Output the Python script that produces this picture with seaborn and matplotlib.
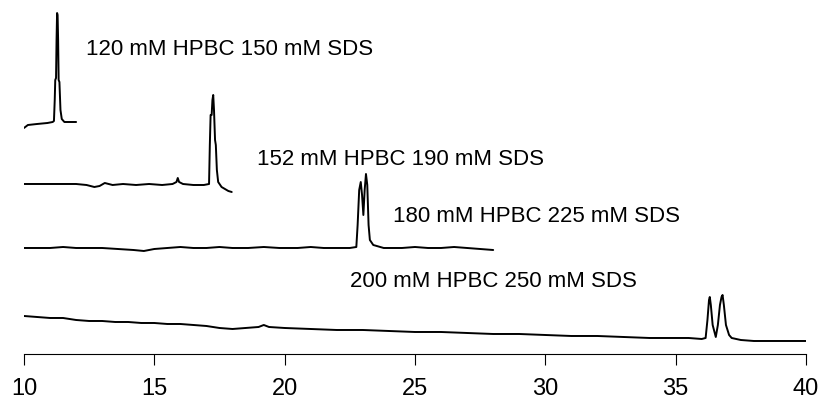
import matplotlib
matplotlib.use("Agg")
import matplotlib.pyplot as plt
import pandas as pd
import seaborn as sns

# Migration time (min) and detector signal (arbitrary units, stacked traces)
t_120 = [10.0, 10.15, 10.5, 10.9, 11.1, 11.15, 11.18, 11.2, 11.23, 11.25, 11.27,
         11.29, 11.31, 11.33, 11.36, 11.4, 11.45, 11.55, 11.7, 12.0]
s_120 = [226, 229, 230, 231, 232, 233, 254, 274, 276, 314, 341,
         339, 314, 274, 272, 244, 235, 232, 232, 232]

t_152 = [10.0, 11.0, 12.0, 12.4, 12.7, 12.9, 13.1, 13.4, 13.8, 14.3, 14.8, 15.3,
         15.7, 15.85, 15.9, 15.95, 16.1, 16.5, 16.9, 17.1, 17.13, 17.16, 17.2,
         17.23, 17.26, 17.29, 17.33, 17.36, 17.4, 17.45, 17.58, 17.84, 17.97]
s_152 = [170, 170, 170, 169, 167, 168, 171, 169, 170, 169, 170, 169,
         170, 172, 176, 172, 170, 169, 169, 170, 209, 239, 239,
         254, 259, 244, 214, 209, 184, 172, 167, 163, 162]

t_180 = [10.0, 11.0, 11.5, 12.0, 13.0, 13.6, 14.2, 14.6, 15.0, 15.5, 16.0, 16.5,
         17.0, 17.5, 18.0, 18.6, 19.2, 19.8, 20.5, 21.0, 21.5, 22.0, 22.5, 22.75,
         22.8, 22.86, 22.92, 22.97, 23.02, 23.07, 23.12, 23.17, 23.22, 23.27,
         23.4, 23.8, 24.5, 25.0, 25.5, 26.0, 26.5, 27.0, 27.5, 28.0]
s_180 = [106, 106, 107, 106, 106, 105, 104, 103, 105, 106, 107, 106,
         106, 107, 106, 106, 107, 106, 106, 107, 106, 106, 106, 107,
         129, 164, 172, 159, 139, 164, 180, 169, 129, 114,
         109, 106, 106, 107, 106, 106, 107, 106, 105, 104]

t_200 = [10.0, 10.5, 11.0, 11.5, 12.0, 12.5, 13.0, 13.5, 14.0, 14.5, 15.0, 15.5,
         16.0, 16.5, 17.0, 17.5, 18.0, 18.5, 19.0, 19.2, 19.4, 20.0, 21.0, 22.0,
         23.0, 24.0, 25.0, 26.0, 27.0, 28.0, 29.0, 30.0, 31.0, 32.0, 33.0, 34.0,
         35.0, 35.5, 36.0, 36.15, 36.22, 36.28, 36.31, 36.35, 36.42, 36.54, 36.62,
         36.7, 36.76, 36.8, 36.85, 36.93, 37.05, 37.15, 37.5, 38.0, 39.0, 40.0]
s_200 = [38, 37, 36, 36, 34, 33, 33, 32, 32, 31, 31, 30,
         30, 29, 28, 26, 25, 26, 27, 29, 27, 26, 25, 24,
         24, 23, 22, 22, 21, 20, 20, 19, 18, 18, 17, 16,
         16, 16, 15, 16, 34, 54, 57, 49, 29, 17, 29,
         49, 57, 59, 49, 29, 19, 16, 14, 13, 13, 13]

labels = ["120 mM HPBC 150 mM SDS", "152 mM HPBC 190 mM SDS",
          "180 mM HPBC 225 mM SDS", "200 mM HPBC 250 mM SDS"]
label_t = [12.38, 18.94, 24.15, 22.5]
label_s = [304, 194, 137, 72]

x_ticks = [10, 15, 20, 25, 30, 35, 40]

traces = [(t_120, s_120), (t_152, s_152), (t_180, s_180), (t_200, s_200)]
df = pd.concat(
    [pd.DataFrame({"time": t, "signal": s, "run": lab})
     for (t, s), lab in zip(traces, labels)],
    ignore_index=True,
)

sns.set_theme(style="white")
plt.rcParams["font.family"] = ["Liberation Sans", "DejaVu Sans"]

fig = plt.figure(figsize=(8.21, 4.09), dpi=100)
ax = fig.add_axes([0.0292, 0.1345, 0.9525, 0.8655])

sns.lineplot(data=df, x="time", y="signal", units="run", estimator=None,
             sort=False, color="black", linewidth=1.4, ax=ax, legend=False)

for lab, tx, sy in zip(labels, label_t, label_s):
    ax.text(tx, sy, lab, fontsize=16, color="black", ha="left", va="center")

ax.set_xlim(10, 40)
ax.set_ylim(0, 354)
ax.set_xticks(x_ticks)
ax.set_xticklabels([str(v) for v in x_ticks])
ax.set_yticks([])
ax.set_xlabel("")
ax.set_ylabel("")
for side in ("left", "top", "right"):
    ax.spines[side].set_visible(False)
ax.spines["bottom"].set_color("black")
ax.spines["bottom"].set_linewidth(0.8)
ax.tick_params(axis="x", direction="out", length=8, width=0.8, color="black",
               bottom=True, labelsize=17, labelcolor="black", pad=9)

fig.savefig("out.png", dpi=100)
